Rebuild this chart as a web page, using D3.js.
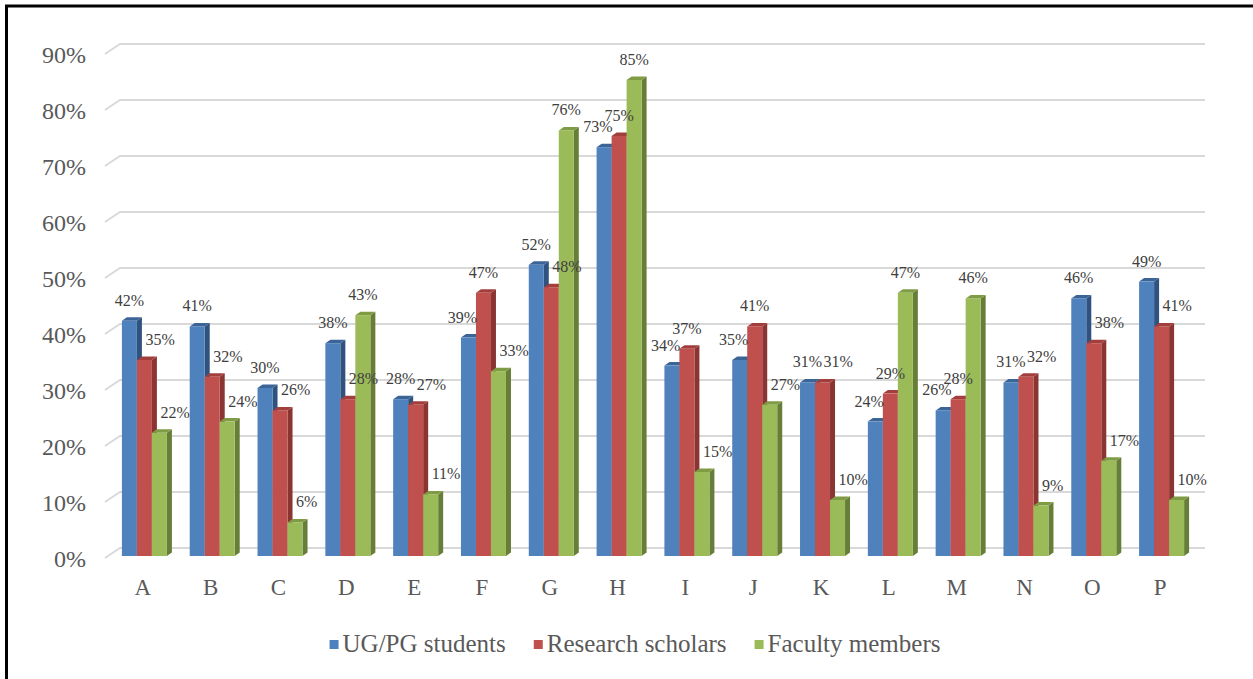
<!DOCTYPE html>
<html>
<head>
<meta charset="utf-8">
<script src="https://cdn.jsdelivr.net/npm/d3@7"></script>
<style>
  body { margin: 0; background: #fff; }
</style>
</head>
<body>
<div id="chart"></div>
<script>
// data (percent)
const categories = ["A", "B", "C", "D", "E", "F", "G", "H", "I", "J", "K", "L", "M", "N", "O", "P"];
const seriesNames = ["UG/PG students", "Research scholars", "Faculty members"];
const ugpgStudents = [42, 41, 30, 38, 28, 39, 52, 73, 34, 35, 31, 24, 26, 31, 46, 49];
const researchScholars = [35, 32, 26, 28, 27, 47, 48, 75, 37, 41, 31, 29, 28, 32, 38, 41];
const facultyMembers = [22, 24, 6, 43, 11, 33, 76, 85, 15, 27, 10, 47, 46, 9, 17, 10];
const yTicks = [0, 10, 20, 30, 40, 50, 60, 70, 80, 90];

const seriesValues = [ugpgStudents, researchScholars, facultyMembers];
const faceColors = ["#4f81bd", "#c0504d", "#9bbb59"];
const sideColors = ["#30527e", "#8a3532", "#677e38"];
const topColors = ["#3b6497", "#a23f3c", "#7f9c45"];

const W = 1253, H = 679;
const barW = 15, depthX = 5, depthY = 3.5;
const serif = "'Liberation Serif', 'Times New Roman', 'DejaVu Serif', serif";

const svg = d3.select("#chart")
    .append("svg")
    .attr("width", W)
    .attr("height", H)
    .attr("font-family", serif);

svg.append("rect").attr("width", W).attr("height", H).attr("fill", "#fff");

// frame (runs off the right/bottom edge like the original)
svg.append("rect")
    .attr("x", 6.5).attr("y", 6)
    .attr("width", W + 20).attr("height", H + 20)
    .attr("fill", "none")
    .attr("stroke", "#000")
    .attr("stroke-width", 3);

const y = d3.scaleLinear().domain([0, 90]).range([556, 52]);
const x = d3.scaleBand().domain(categories).range([113, 1198]);
const groupPad = (x.step() - 3 * barW - depthX) / 2;

// gridlines on the back wall with the little floor diagonal
const grid = svg.append("g");
yTicks.forEach(t => {
    grid.append("path")
        .attr("d", `M105,${y(t) + 2}L120,${y(t) - 8}L1205,${y(t) - 8}`)
        .attr("fill", "none")
        .attr("stroke", "#d9d9d9")
        .attr("stroke-width", 2);
});

// y tick labels
svg.append("g").selectAll("text")
    .data(yTicks)
    .join("text")
    .attr("x", 86)
    .attr("y", d => y(d) + 11)
    .attr("text-anchor", "end")
    .attr("font-family", serif)
    .attr("font-size", 24)
    .attr("fill", "#595959")
    .text(d => d + "%");

// category labels
svg.append("g").selectAll("text")
    .data(categories)
    .join("text")
    .attr("x", d => x(d) + x.step() / 2 - 4)
    .attr("y", 595)
    .attr("text-anchor", "middle")
    .attr("font-family", serif)
    .attr("font-size", 23)
    .attr("fill", "#595959")
    .text(d => d);

// 3D-ish bars
const bars = svg.append("g");
const base = y(0);
categories.forEach((c, i) => {
    seriesValues.forEach((vals, j) => {
        const v = vals[i];
        const x0 = x(c) + groupPad + j * barW;
        const x1 = x0 + barW;
        const top = y(v);
        bars.append("path")
            .attr("d", `M${x1},${top}L${x1 + depthX},${top - depthY}L${x1 + depthX},${base - depthY}L${x1},${base}Z`)
            .attr("fill", sideColors[j]);
        bars.append("path")
            .attr("d", `M${x0},${top}L${x0 + depthX},${top - depthY}L${x1 + depthX},${top - depthY}L${x1},${top}Z`)
            .attr("fill", topColors[j]);
        bars.append("rect")
            .attr("x", x0).attr("y", top)
            .attr("width", barW).attr("height", base - top)
            .attr("fill", faceColors[j]);
    });
});

// value labels, nudged sideways where the neighbouring label would collide
const labels = svg.append("g");
categories.forEach((c, i) => {
    seriesValues.forEach((vals, j) => {
        const v = vals[i];
        const x0 = x(c) + groupPad + j * barW;
        const cx = x0 + barW / 2;
        let lx = cx, anchor = "middle";
        if (j === 0 && seriesValues[1][i] - v >= 2) {
            lx = x0 + barW + 1; anchor = "end";
        } else if (j === 1 && v - seriesValues[0][i] < 2) {
            lx = cx + 1; anchor = "start";
        } else if (j === 2 && v < seriesValues[1][i]) {
            lx = cx + 1; anchor = "start";
        }
        labels.append("text")
            .attr("x", lx)
            .attr("y", y(v) - 15)
            .attr("text-anchor", anchor)
            .attr("font-family", serif)
            .attr("font-size", 16)
            .attr("fill", "#404040")
            .text(v + "%");
    });
});

// legend
const legend = svg.append("g");
let lx = 0;
seriesNames.forEach((name, j) => {
    const g = legend.append("g");
    g.append("rect")
        .attr("x", 0).attr("y", 640)
        .attr("width", 9).attr("height", 9)
        .attr("fill", faceColors[j]);
    const t = g.append("text")
        .attr("x", 13).attr("y", 652)
        .attr("font-family", serif)
        .attr("font-size", 25)
        .attr("fill", "#595959")
        .text(name);
    const w = 13 + t.node().getComputedTextLength();
    g.attr("transform", `translate(${lx},0)`);
    lx += w + 28;
});
const legendW = lx - 28;
legend.attr("transform", `translate(${635 - legendW / 2},0)`);
</script>
</body>
</html>
